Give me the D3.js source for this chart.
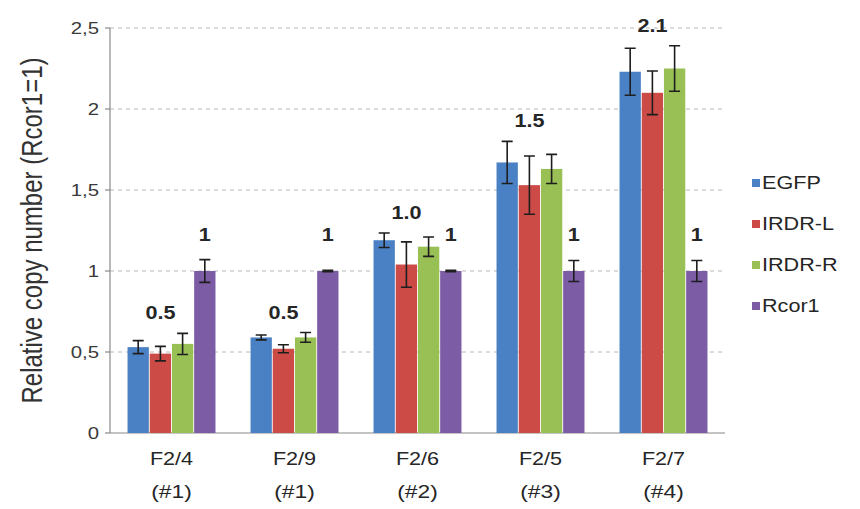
<!DOCTYPE html>
<html>
<head>
<meta charset="utf-8">
<script src="https://cdn.jsdelivr.net/npm/d3@7"></script>
<style>
  html, body { margin: 0; padding: 0; background: #fff; }
  svg { display: block; }
  text { font-family: "Liberation Sans", Arial, sans-serif; fill: #262626; }
</style>
</head>
<body>
<svg id="chart" width="860" height="509"></svg>
<script>
// Samples (two-line category labels)
const groups = ["F2/4", "F2/9", "F2/6", "F2/5", "F2/7"];
const groupSub = ["(#1)", "(#1)", "(#2)", "(#3)", "(#4)"];

// Series names
const seriesNames = ["EGFP", "IRDR-L", "IRDR-R", "Rcor1"];

// Relative copy numbers (mean) and error bar half-widths
const egfp      = [0.53, 0.59, 1.19, 1.67, 2.23];
const egfpErr   = [0.04, 0.015, 0.045, 0.13, 0.145];
const irdrL     = [0.49, 0.52, 1.04, 1.53, 2.10];
const irdrLErr  = [0.045, 0.025, 0.14, 0.18, 0.135];
const irdrR     = [0.55, 0.59, 1.15, 1.63, 2.25];
const irdrRErr  = [0.065, 0.03, 0.06, 0.09, 0.14];
const rcor1     = [1, 1, 1, 1, 1];
const rcor1Err  = [0.07, 0.005, 0.005, 0.065, 0.065];

// Copy-number annotations written above each sample
const copyLabels = ["0.5", "0.5", "1.0", "1.5", "2.1"];
const rcorLabels = ["1", "1", "1", "1", "1"];

// Y axis ticks
const yTicks = [0, 0.5, 1, 1.5, 2, 2.5];
const yTickText = ["0", "0,5", "1", "1,5", "2", "2,5"];

const colors = ["#4a80c4", "#cc4b47", "#98c055", "#7d5ca6"];
const values = [egfp, irdrL, irdrR, rcor1];
const errors = [egfpErr, irdrLErr, irdrRErr, rcor1Err];

const svg = d3.select("#chart");
const SX = 1.2; // glyphs are drawn slightly wide

// place text with a horizontal glyph stretch
function putText(sel, x, yy, rotate) {
  if (rotate) sel.attr("transform", `translate(${x},${yy}) rotate(-90) scale(1,${SX})`);
  else sel.attr("transform", `translate(${x},${yy}) scale(${SX},1)`);
  return sel;
}

const plotLeft = 110, plotRight = 725, plotTop = 28, plotBottom = 433;

const x0 = d3.scaleBand().domain(groups).range([plotLeft, plotRight])
  .paddingInner(0.285).paddingOuter(0.1425);
const x1 = d3.scaleBand().domain(seriesNames).range([0, x0.bandwidth()]).paddingInner(0.04);
const y = d3.scaleLinear().domain([0, 2.5]).range([plotBottom, plotTop]);

// dashed horizontal gridlines
svg.append("g").selectAll("line").data(yTicks.filter(t => t > 0)).join("line")
  .attr("x1", plotLeft).attr("x2", plotRight)
  .attr("y1", d => y(d)).attr("y2", d => y(d))
  .attr("stroke", "#b8b8b8").attr("stroke-width", 1)
  .attr("stroke-dasharray", "4,4");

// axes lines
svg.append("line").attr("x1", plotLeft).attr("x2", plotLeft).attr("y1", y(2.5)).attr("y2", plotBottom)
  .attr("stroke", "#8a8a8a").attr("stroke-width", 1.2);
svg.append("line").attr("x1", plotLeft).attr("x2", plotRight).attr("y1", plotBottom).attr("y2", plotBottom)
  .attr("stroke", "#8a8a8a").attr("stroke-width", 1.2);
svg.append("g").selectAll("line").data(yTicks).join("line")
  .attr("x1", plotLeft - 5).attr("x2", plotLeft)
  .attr("y1", d => y(d)).attr("y2", d => y(d))
  .attr("stroke", "#8a8a8a").attr("stroke-width", 1.2);

// y tick labels
yTicks.forEach((t, i) => {
  putText(svg.append("text").text(yTickText[i])
    .attr("text-anchor", "end").attr("dominant-baseline", "central")
    .style("font-size", "17px").style("fill", "#3a3a3a"), 99, y(t));
});

// y axis title
putText(svg.append("text").text("Relative copy number (Rcor1=1)")
  .attr("text-anchor", "middle").style("font-size", "24px").style("fill", "#333"),
  42, (plotTop + plotBottom) / 2, true);

// bars
const gGroups = svg.append("g").selectAll("g").data(groups).join("g")
  .attr("transform", d => `translate(${x0(d)},0)`);

seriesNames.forEach((s, si) => {
  gGroups.append("rect")
    .attr("x", x1(s)).attr("width", x1.bandwidth())
    .attr("y", (d, gi) => y(values[si][gi]))
    .attr("height", (d, gi) => plotBottom - y(values[si][gi]))
    .attr("fill", colors[si]);
});

// error bars
const cap = 5.5;
seriesNames.forEach((s, si) => {
  const cx = x1(s) + x1.bandwidth() / 2;
  gGroups.each(function (d, gi) {
    const g = d3.select(this);
    const v = values[si][gi], e = errors[si][gi];
    const path = d3.path();
    path.moveTo(cx, y(v - e)); path.lineTo(cx, y(v + e));
    path.moveTo(cx - cap, y(v + e)); path.lineTo(cx + cap, y(v + e));
    path.moveTo(cx - cap, y(v - e)); path.lineTo(cx + cap, y(v - e));
    g.append("path").attr("d", path.toString())
      .attr("stroke", "#1e1e1e").attr("stroke-width", 1.6).attr("fill", "none");
  });
});

// annotations above the transgene bars and Rcor1 bars
const rcorTop = d3.max(rcor1.map((v, i) => v + rcor1Err[i]));
groups.forEach((g, gi) => {
  const topVal = d3.max([0, 1, 2].map(si => values[si][gi] + errors[si][gi]));
  const cx = x0(g) + (x1(seriesNames[0]) + x1(seriesNames[2]) + x1.bandwidth()) / 2;
  putText(svg.append("text").text(copyLabels[gi]).attr("text-anchor", "middle")
    .style("font-size", "18px").style("font-weight", "bold"), cx, y(topVal) - 14);
  const rx = x0(g) + x1(seriesNames[3]) + x1.bandwidth() / 2;
  putText(svg.append("text").text(rcorLabels[gi]).attr("text-anchor", "middle")
    .style("font-size", "18px").style("font-weight", "bold"), rx, y(rcorTop) - 19);
});

// category labels
groups.forEach((g, gi) => {
  const cx = x0(g) + x0.bandwidth() / 2;
  putText(svg.append("text").text(g).attr("text-anchor", "middle")
    .style("font-size", "18px"), cx, 465);
  putText(svg.append("text").text(groupSub[gi]).attr("text-anchor", "middle")
    .style("font-size", "19px"), cx, 498);
});

// legend
seriesNames.forEach((s, si) => {
  const ly = 183 + si * 41;
  svg.append("rect").attr("x", 752).attr("y", ly - 4).attr("width", 8).attr("height", 8)
    .attr("fill", colors[si]);
  putText(svg.append("text").text(s).attr("dominant-baseline", "central")
    .style("font-size", "18px"), 762, ly);
});
</script>
</body>
</html>
